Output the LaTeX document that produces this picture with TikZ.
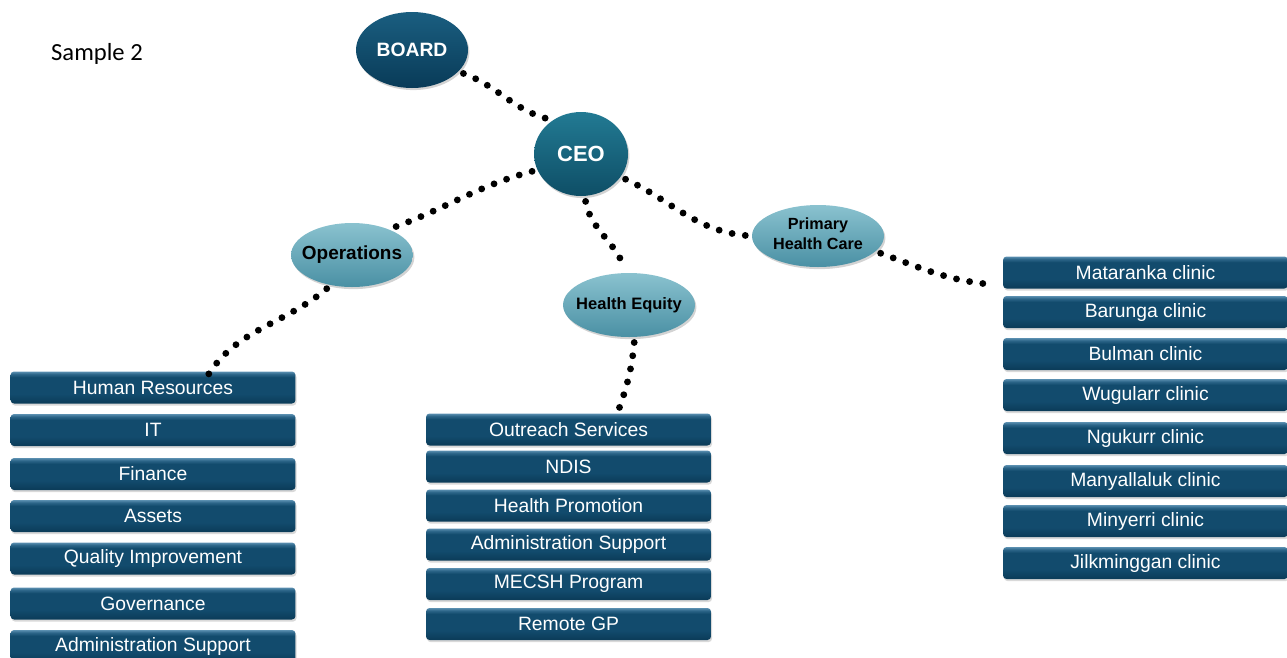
\documentclass[tikz,border=0pt]{standalone}
\usepackage{fontspec}
\setmainfont{Liberation Sans}
\newfontfamily\samplefont{Carlito}
\usetikzlibrary{shapes.geometric,shadows}
\definecolor{boxtop}{HTML}{5A8FB0}
\definecolor{boxedge}{HTML}{2D6689}
\definecolor{boxmid}{HTML}{124B6D}
\definecolor{boxbot}{HTML}{0B3B58}
\definecolor{darktop}{HTML}{1A5E80}
\definecolor{darkbot}{HTML}{093B58}
\definecolor{ceotop}{HTML}{227A93}
\definecolor{ceobot}{HTML}{0E4E66}
\definecolor{lighttop}{HTML}{8AC2CF}
\definecolor{lightbot}{HTML}{4A90A4}
\pgfdeclareverticalshading{unitshade}{100bp}{color(0bp)=(boxbot); color(25bp)=(boxbot); color(40bp)=(boxmid); color(66bp)=(boxmid); color(71bp)=(boxedge); color(75bp)=(boxtop); color(100bp)=(boxtop)}
\begin{document}
\begin{tikzpicture}[x=0.02cm, y=-0.02cm,
  unit/.style={rectangle, rounded corners=2pt, minimum width=5.7cm, minimum height=0.64cm, inner sep=0pt,
    shading=unitshade,
    drop shadow={opacity=0.3, shadow xshift=0.6pt, shadow yshift=-1.2pt},
    text=white, font=\fontsize{11}{13}\selectfont},
  head/.style={ellipse, inner sep=0pt, align=center,
    drop shadow={opacity=0.35, shadow xshift=0.8pt, shadow yshift=-1.2pt}},
  darkhead/.style={head, top color=darktop, bottom color=darkbot, text=white, font=\bfseries\fontsize{11}{13}\selectfont},
  lighthead/.style={head, top color=lighttop, bottom color=lightbot, text=black},
  dotline/.style={line width=3.9pt, line cap=round, dash pattern=on 0pt off 7.6pt, shorten <=3pt, shorten >=3pt}]
\clip (0,0) rectangle (1287,657);
\useasboundingbox (0,0) rectangle (1287,657);

\node[anchor=west, font=\samplefont\fontsize{14}{16}\selectfont] (title) at (45,54) {Sample 2};

% heads
\node[darkhead, minimum width=2.24cm, minimum height=1.52cm] (board) at (412,50) {BOARD};
\node[darkhead, top color=ceotop, bottom color=ceobot, minimum width=1.88cm, minimum height=1.68cm, font=\bfseries\fontsize{12.5}{14}\selectfont] (ceo) at (581,154) {CEO};
\node[lighthead, minimum width=2.44cm, minimum height=1.28cm, font=\bfseries\fontsize{10.8}{13}\selectfont] (ops) at (352,255) {\makebox[0pt]{Operations}};
\node[lighthead, minimum width=2.64cm, minimum height=1.28cm, font=\bfseries\fontsize{9.4}{11}\selectfont] (heq) at (629,305) {\makebox[0pt]{Health Equity}};
\node[lighthead, minimum width=2.64cm, minimum height=1.24cm, font=\bfseries\fontsize{9.2}{10.8}\selectfont] (phc) at (818,236) {\makebox[0pt]{\raisebox{1.5pt}{\begin{tabular}{@{}c@{}}Primary\\[0.5pt]Health Care\end{tabular}}}};

% operations
\node[unit] (hr) at (153,387.5) {Human Resources};
\node[unit] (it) at (153,430) {IT};
\node[unit] (fin) at (153,474) {Finance};
\node[unit] (ast) at (153,516) {Assets};
\node[unit] (qi) at (153,558.5) {Quality Improvement};
\node[unit] (gov) at (153,603.5) {Governance};
\node[unit] (adm) at (153,646) {Administration Support};

% health equity
\node[unit] (out) at (568.5,429.5) {Outreach Services};
\node[unit] (ndis) at (568.5,466.5) {NDIS};
\node[unit] (hp) at (568.5,505.5) {Health Promotion};
\node[unit] (hadm) at (568.5,544.5) {Administration Support};
\node[unit] (mecsh) at (568.5,584) {MECSH Program};
\node[unit] (rgp) at (568.5,624) {Remote GP};

% primary health care
\node[unit] (mat) at (1145.5,272.5) {Mataranka clinic};
\node[unit] (bar) at (1145.5,312) {Barunga clinic};
\node[unit] (bul) at (1145.5,354) {Bulman clinic};
\node[unit] (wug) at (1145.5,395) {Wugularr clinic};
\node[unit] (ngu) at (1145.5,438) {Ngukurr clinic};
\node[unit] (man) at (1145.5,481) {Manyallaluk clinic};
\node[unit] (min) at (1145.5,521) {Minyerri clinic};
\node[unit] (jil) at (1145.5,563) {Jilkminggan clinic};

% links
\draw[dotline] (board.-25) to[out=-20,in=165] (ceo.130);
\draw[dotline] (ceo.200) to[out=195,in=20] (ops.35);
\draw[dotline] (ops.-125) to[out=-140,in=60] ([xshift=1cm,yshift=-0.25cm]hr.north);
\draw[dotline] (ceo.-85) to[out=-80,in=110] (heq.95);
\draw[dotline] (ceo.-30) to[out=-25,in=175] (phc.west);
\draw[dotline] (phc.-15) to[out=-20,in=175] ([xshift=-0.12cm,yshift=0.08cm]mat.south west);
\draw[dotline] (heq.-80) to[out=-95,in=70] ([xshift=0.9cm,yshift=-0.22cm]out.north);

\end{tikzpicture}
\end{document}
